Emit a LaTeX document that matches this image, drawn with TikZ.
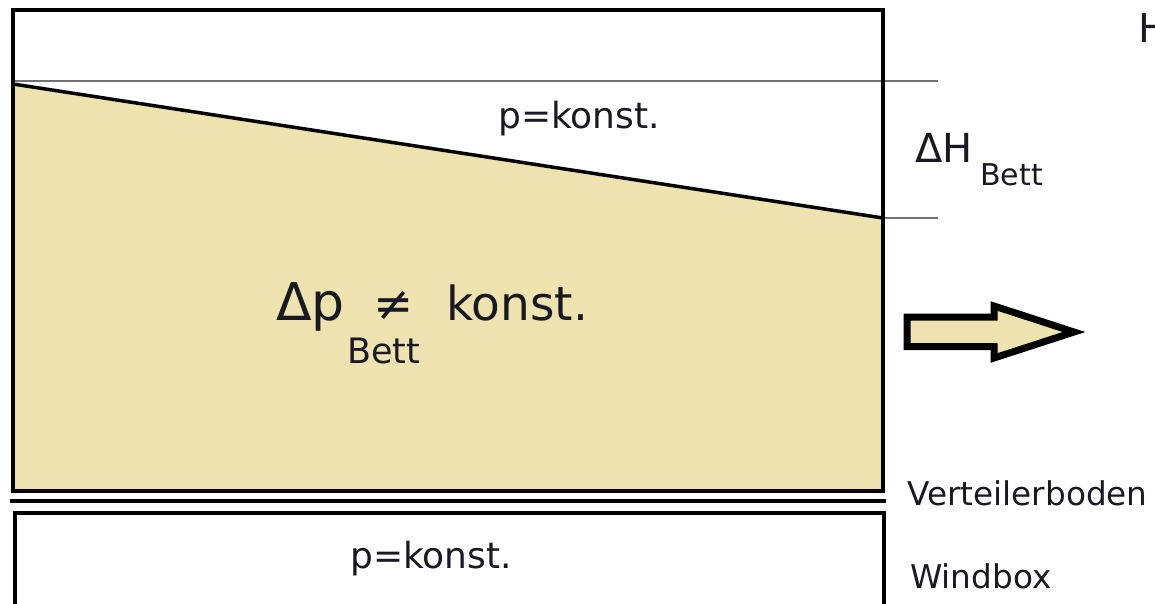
\documentclass[tikz,border=0pt]{standalone}
\usepackage{fontspec}
\setmainfont{DejaVu Sans}
\definecolor{bed}{RGB}{238,226,174}
\definecolor{txt}{RGB}{25,25,35}
\tikzset{
  thickbox/.style={draw=black, line width=4pt},
  thinline/.style={draw=black!55, line width=1.6pt},
  lbl/.style={anchor=base west, inner sep=0pt, text=txt},
}
\begin{document}
\begin{tikzpicture}[x=1pt,y=-1pt]
\useasboundingbox (0,0) rectangle (1155,603);
\clip (0,0) rectangle (1155,603);
% bed fill
\fill[bed] (13,84) -- (883,218) -- (883,491) -- (13,491) -- cycle;
% thin level lines
\draw[thinline] (13,81) -- (938,81);
\draw[thinline] (883,218) -- (938,218);
% bed surface
\draw[black, line width=3.5pt] (13,84) -- (883,218);
% main box
\draw[thickbox] (13,10) rectangle (883,491);
% distributor plate
\draw[black, line width=3.5pt] (10,501) -- (886,501);
% windbox
\draw[thickbox] (15,513) rectangle (884,620);
% arrow
\draw[black, line width=7pt, fill=bed, line join=miter, miter limit=4]
  (907,317) -- (994,317) -- (994,306) -- (1074,332) -- (994,358) -- (994,346.5) -- (907,346.5) -- cycle;
% texts
\node[lbl, font=\fontsize{36}{40}\selectfont] (p1) at (498,128) {p=konst.};
\node[lbl, font=\fontsize{36}{40}\selectfont] (p2) at (350,568) {p=konst.};
\node[lbl, font=\fontsize{52}{56}\selectfont] (dp) at (276,320) {Δp};
\node[lbl, font=\fontsize{48}{52}\selectfont] (ne) at (373,320) {≠};
\node[lbl, font=\fontsize{47}{50}\selectfont] (k) at (446,320) {konst.};
\node[lbl, font=\fontsize{35}{38}\selectfont] (b1) at (347,363) {Bett};
\node[lbl, font=\fontsize{40}{44}\selectfont] (dh) at (915,162) {ΔH};
\node[lbl, font=\fontsize{30}{34}\selectfont] (b2) at (980,185) {Bett};
\node[lbl, font=\fontsize{40}{44}\selectfont] (h) at (1138,42) {H};
\node[lbl, font=\fontsize{32.7}{36}\selectfont] (vb) at (907,505) {Verteilerboden};
\node[lbl, font=\fontsize{32.7}{36}\selectfont] (wb) at (910,588) {Windbox};
\end{tikzpicture}
\end{document}
